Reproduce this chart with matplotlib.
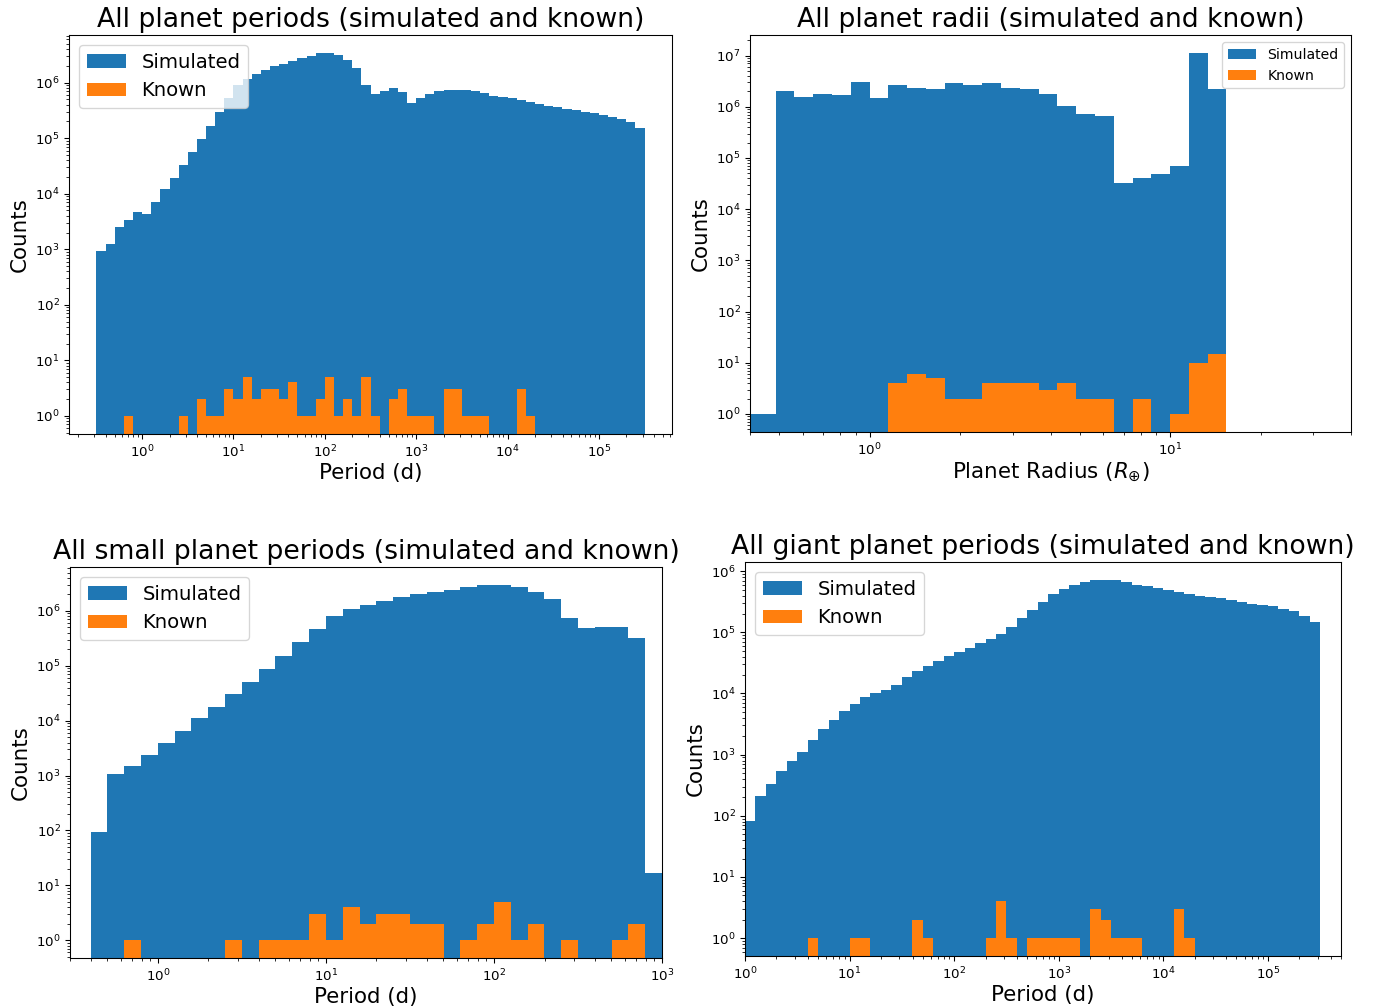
import numpy as np
import matplotlib
matplotlib.use("Agg")
import matplotlib.pyplot as plt

# ---- all planets, period histogram (10 bins / decade, 10^-0.5 .. 10^5.5)
all_period_edges = 10 ** (np.arange(-5, 56) / 10)
all_period_sim = [
    940, 1260, 2560, 3300, 4700, 4350, 7200, 12000, 19400, 33400,
    55500, 96000, 168000, 296000, 520000, 920000, 1180000, 1430000, 1700000, 1960000,
    2200000, 2500000, 2770000, 3060000, 3400000, 3400000, 3100000, 2560000, 1800000, 920000,
    630000, 710000, 810000, 690000, 430000, 525000, 630000, 700000, 740000, 740000,
    730000, 700000, 650000, 580000, 550000, 520000, 480000, 455000, 415000, 385000,
    360000, 330000, 316000, 300000, 290000, 263000, 245000, 222000, 195000, 151000,
]
all_period_known = [
    0, 0, 0, 1, 0, 0, 0, 0, 0, 1,
    0, 2, 1, 1, 3, 2, 5, 2, 3, 3,
    2, 4, 1, 1, 2, 5, 1, 2, 1, 5,
    1, 0, 2, 3, 1, 1, 1, 0, 3, 3,
    1, 1, 1, 0, 0, 0, 3, 1, 0, 0,
    0, 0, 0, 0, 0, 0, 0, 0, 0, 0,
]

# ---- all planets, radius histogram (16 bins / decade, first bin wider)
radius_edges = np.concatenate([[0.3], 10 ** (np.arange(-5, 20) / 16)])
radius_sim = [
    1, 2000000, 1580000, 1750000, 1700000, 3100000, 1480000, 2700000, 2350000, 2200000,
    2950000, 2700000, 2950000, 2350000, 2200000, 1750000, 1020000, 710000, 650000, 32000,
    41000, 49000, 69000, 11200000, 2200000,
]
radius_known = [
    0, 0, 0, 0, 0, 0, 0, 4, 6, 5,
    2, 2, 4, 4, 4, 3, 4, 2, 2, 0,
    2, 0, 1, 10, 15,
]

# ---- small planets, period histogram (10^-0.4 .. 10^3)
small_edges = 10 ** (np.arange(-4, 31) / 10)
small_sim = [
    95, 1080, 1520, 2400, 4000, 6600, 11000, 17800, 31000, 51500,
    87500, 154000, 270000, 470000, 820000, 1070000, 1310000, 1530000, 1780000, 2000000,
    2250000, 2450000, 2750000, 3000000, 3000000, 2750000, 2250000, 1620000, 740000, 480000,
    500000, 520000, 325000, 17,
]
small_known = [
    0, 0, 1, 0, 0, 0, 0, 0, 1, 0,
    1, 1, 1, 3, 1, 4, 2, 3, 3, 2,
    2, 0, 1, 2, 5, 1, 2, 0, 1, 0,
    0, 1, 2, 0,
]

# ---- giant planets, period histogram (10^0 .. 10^5.5)
giant_edges = 10 ** (np.arange(0, 56) / 10)
giant_sim = [
    83, 208, 333, 540, 780, 1100, 1750, 2600, 3650, 5100,
    6800, 8600, 10000, 11500, 14000, 18300, 23000, 28500, 34000, 41500,
    48000, 56000, 67000, 78000, 95000, 123000, 170000, 236000, 316000, 425000,
    515000, 600000, 675000, 720000, 720000, 710000, 665000, 600000, 565000, 525000,
    490000, 460000, 430000, 400000, 380000, 360000, 340000, 316000, 295000, 275000,
    265000, 240000, 220000, 182000, 148000,
]
giant_known = [
    0, 0, 0, 0, 0, 0, 1, 0, 0, 0,
    1, 1, 0, 0, 0, 0, 2, 1, 0, 0,
    0, 0, 0, 1, 4, 1, 0, 1, 1, 1,
    1, 1, 0, 3, 2, 1, 1, 1, 0, 0,
    0, 3, 1, 0, 0, 0, 0, 0, 0, 0,
    0, 0, 0, 0, 0,
]

W, H, DPI = 1377, 1007, 96


def px_axes(fig, left, right, top, bottom):
    return fig.add_axes([left / W, (H - bottom) / H, (right - left) / W, (bottom - top) / H])


def sim_vs_known(ax, edges, sim, known, title, xlabel, legend_size, legend_loc):
    centers = np.sqrt(edges[:-1] * edges[1:])
    ax.hist(centers, bins=edges, weights=sim, log=True, label="Simulated")
    ax.hist(centers, bins=edges, weights=known, log=True, label="Known")
    ax.set_xscale("log")
    ax.set_title(title, fontsize=20)
    ax.set_xlabel(xlabel, fontsize=16, labelpad=2)
    ax.set_ylabel("Counts", fontsize=16)
    ax.legend(fontsize=legend_size, loc=legend_loc)


fig = plt.figure(figsize=(W / DPI, H / DPI), dpi=DPI)

ax1 = px_axes(fig, 69, 672, 35, 434)
sim_vs_known(ax1, all_period_edges, all_period_sim, all_period_known,
             "All planet periods (simulated and known)", "Period (d)", 14.7, "upper left")

ax2 = px_axes(fig, 750, 1351, 35, 432)
sim_vs_known(ax2, radius_edges, radius_sim, radius_known,
             "All planet radii (simulated and known)", r"Planet Radius ($R_{\oplus}$)", 10.5, "upper right")
ax2.set_xlim(0.4, 40)

ax3 = px_axes(fig, 70, 662, 567, 958)
sim_vs_known(ax3, small_edges, small_sim, small_known,
             "All small planet periods (simulated and known)", "Period (d)", 14.7, "upper left")
ax3.set_xlim(0.3, 1000)

ax4 = px_axes(fig, 745, 1341, 562, 956)
sim_vs_known(ax4, giant_edges, giant_sim, giant_known,
             "All giant planet periods (simulated and known)", "Period (d)", 14.7, "upper left")
ax4.set_xlim(1, 5e5)

fig.savefig("out.png", dpi=DPI)
